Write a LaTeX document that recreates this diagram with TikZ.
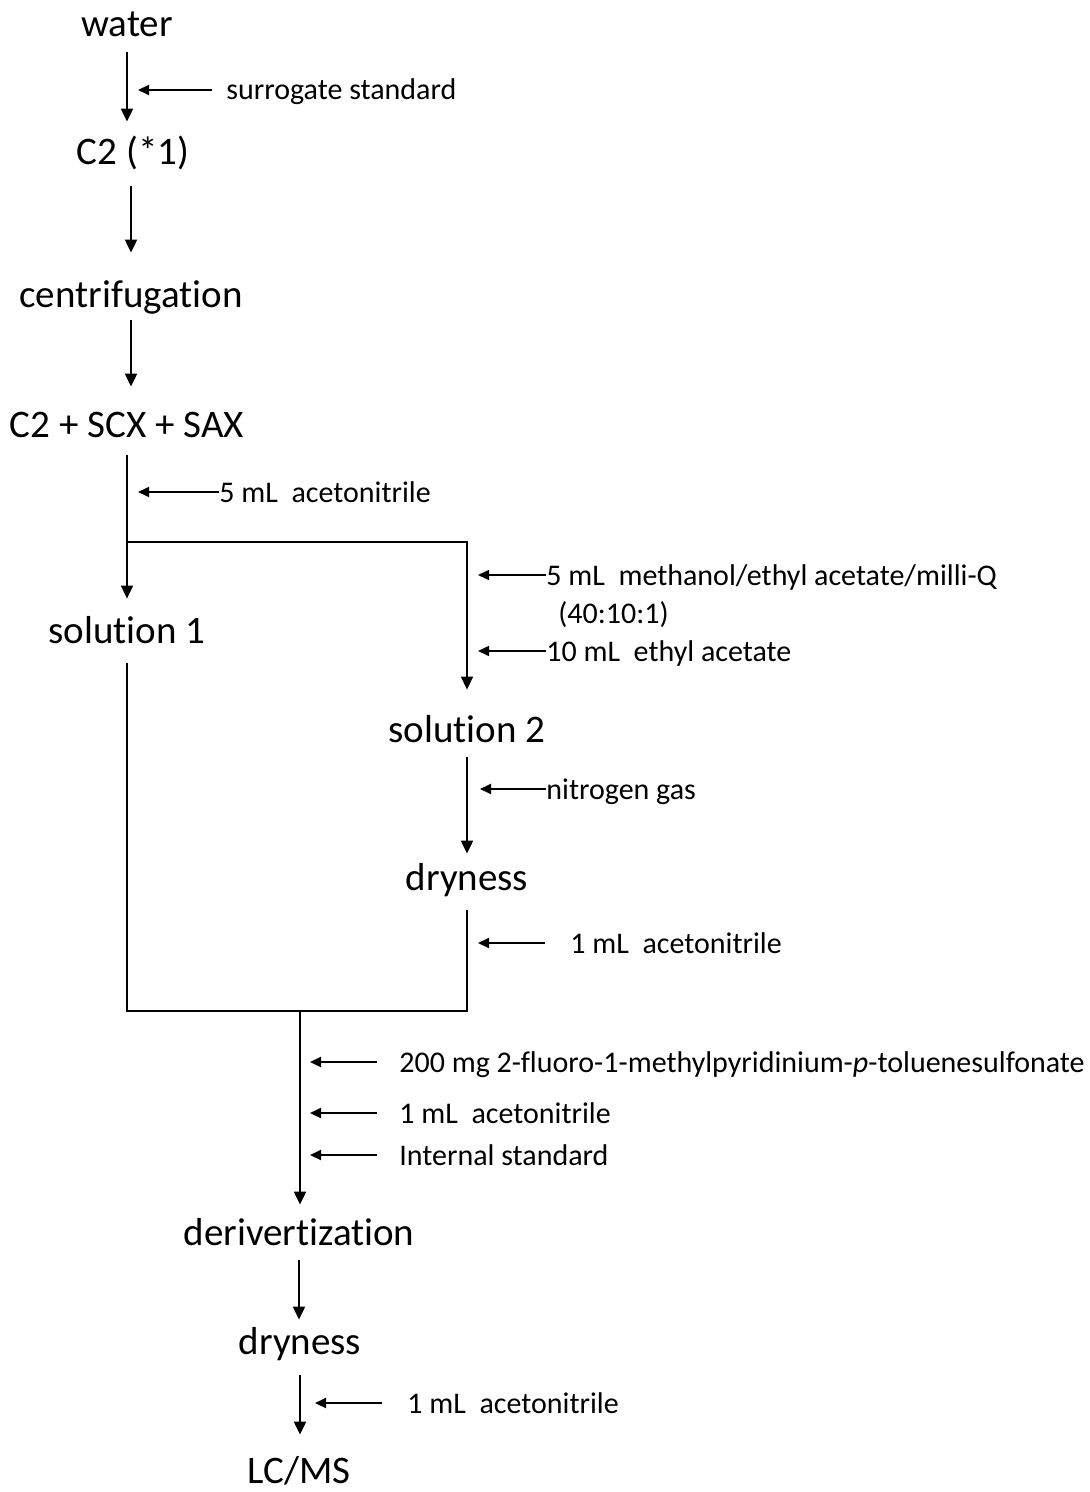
\documentclass[tikz,border=0pt]{standalone}
\usepackage{fontspec}
\setmainfont{Carlito}[Ligatures=NoCommon]
\usetikzlibrary{arrows.meta}

\begin{document}
\begin{tikzpicture}[x=0.5pt,y=-0.5pt]
		\tikzset{
			stage/.style={
				anchor=base, inner sep=0pt, text height=14pt, text depth=4pt,
				font=\fontsize{19.5}{23}\selectfont
			},
			addn/.style={
				anchor=west, inner sep=0pt, text height=10pt, text depth=0pt,
				font=\fontsize{15}{18}\selectfont
			},
			flowarr/.style={
				line width=1pt, -{Triangle[length=6.5pt,width=6pt]}
			},
			feedarr/.style={
				flowarr, -{Triangle[length=5.5pt,width=5pt]}, shorten >=5.5pt
			},
			joinline/.style={
				line width=0.8pt
			}
		}
		\useasboundingbox (0,0) rectangle (1090,1492);

		% main stages
		\node [stage] (water) at (127,37) {water};
		\node [stage] (c2) at (133,165) {C2 (*1)};
		\node [stage] (cent) at (131,308) {centrifugation};
		\node [stage] (c2scx) at (127,437) {C2 + SCX + SAX};
		\node [stage] (sol1) at (127,643) {solution 1};
		\node [stage] (sol2) at (467,742) {solution 2};
		\node [stage] (dry1) at (467,890) {dryness};
		\node [stage] (deriv) at (299,1245) {derivertization};
		\node [stage] (dry2) at (300,1354) {dryness};
		\node [stage] (lcms) at (299,1483) {LC/MS};

		\coordinate (fork) at (127,542);
		\coordinate (merge) at (127,1011);
		\coordinate (junc) at (300,1011);

		% flow
		\draw [flowarr, shorten <=3.5pt, shorten >=7.5pt] (water.south) -- (water.south |- c2.north);
		\draw [flowarr, shorten <=6.5pt, shorten >=13.5pt] (cent.north |- c2.south) -- (cent.north);
		\draw [flowarr, shorten <=2pt, shorten >=11pt] (cent.south) -- (cent.south |- c2scx.north);
		\draw [flowarr, joinline, shorten <=5pt, shorten >=8pt] (c2scx.south) -- (sol1.north);
		\draw [flowarr, joinline, shorten >=12pt] (fork) -| (sol2.north);
		\draw [flowarr, shorten <=3.5pt, shorten >=4pt] (sol2.south) -- (dry1.north);
		\draw [joinline, shorten <=6pt] (sol1.south) -- (merge);
		\draw [joinline, shorten <=6pt] (dry1.south) -- (dry1.south |- merge);
		\draw [line width=1.2pt] ([xshift=-0.5pt]merge) -- ([xshift=0.5pt]dry1.south |- merge);
		\draw [flowarr, shorten >=6pt] (junc) -- (junc |- deriv.north);
		\draw [flowarr, shorten <=3.5pt, shorten >=3pt] (deriv.south) -- (deriv.south |- dry2.north);
		\draw [flowarr, shorten <=6.5pt, shorten >=10pt] (dry2.south) -- (dry2.south |- lcms.north);

		% additions
		\node [addn] (s1) at (226,90) {surrogate standard};
		\draw [feedarr, shorten <=7pt] (s1.west) -- (s1.west -| water.south);

		\node [addn] (s2) at (219,492) {5 mL\ \ acetonitrile};
		\draw [feedarr, joinline] (s2.west) -- (s2.west -| c2scx.south);

		\node [addn] (s3) at (546,575) {5 mL\ \ methanol/ethyl acetate/milli-Q};
		\node [addn] (s4) at (558,613) {(40:10:1)};
		\node [addn] (s5) at (546,651) {10 mL\ \ ethyl acetate};
		\foreach \s in {s3, s5}{
			\draw [feedarr, joinline] (\s.west) -- (\s.west -| sol2.north);
		}

		\node [addn] (s6) at (546,789) {nitrogen gas};
		\draw [feedarr, shorten >=6.5pt] (s6.west) -- (s6.west -| sol2.south);

		\node [addn] (s7) at (570,943) {1 mL\ \ acetonitrile};
		\draw [feedarr, shorten <=12.5pt] (s7.west) -- (s7.west -| dry1.south);

		\foreach \t/\y [count=\i] in {{200 mg 2-fluoro-1-methylpyridinium-\textit{p}-toluenesulfonate}/1062,
				{1 mL\ \ acetonitrile}/1113, {Internal standard}/1155}{
			\node [addn] (d\i) at (399,\y) {\t};
			\draw [feedarr, shorten <=11pt, shorten >=5pt] (d\i.west) -- (d\i.west -| junc);
		}

		\node [addn] (s8) at (407,1403) {1 mL\ \ acetonitrile};
		\draw [feedarr, shorten <=12.5pt, shorten >=7.5pt] (s8.west) -- (s8.west -| dry2.south);
\end{tikzpicture}
\end{document}
